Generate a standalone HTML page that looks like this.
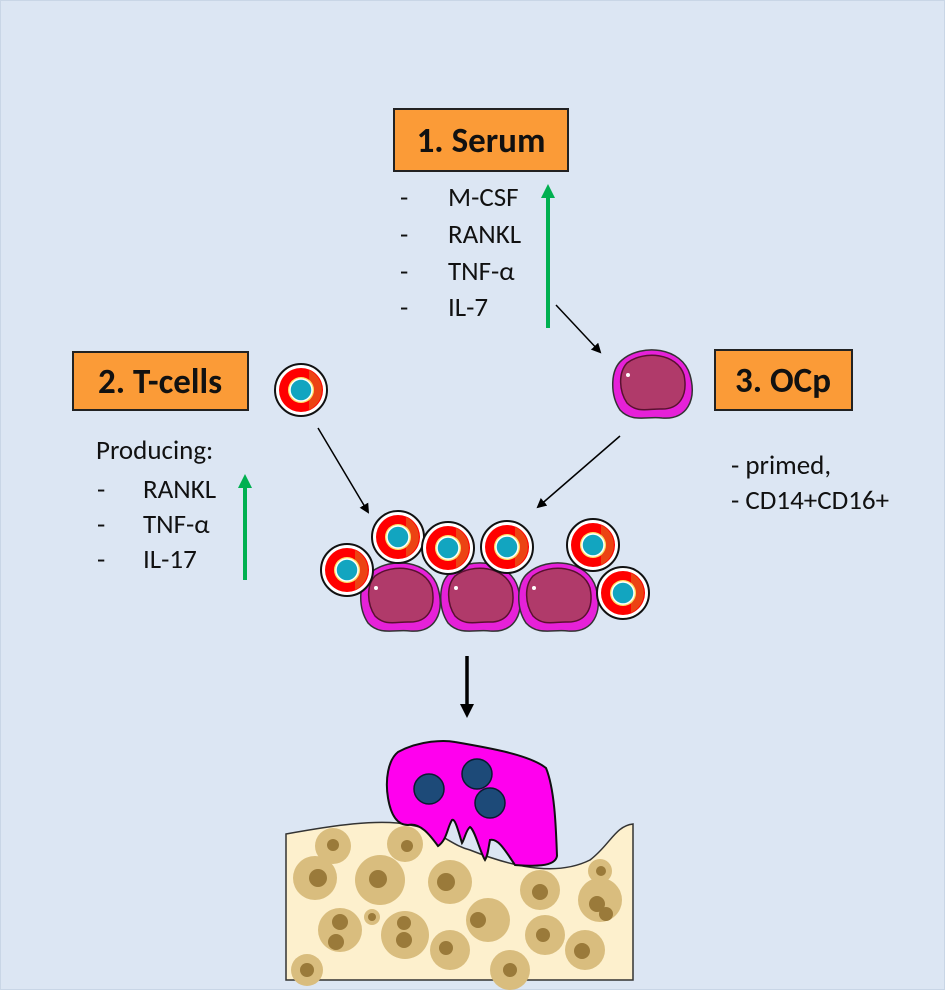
<!DOCTYPE html>
<html><head><meta charset="utf-8"><style>
html,body{margin:0;padding:0;}
body{width:945px;height:990px;background:#dce6f3;position:relative;overflow:hidden;font-family:Carlito,"Liberation Sans",sans-serif;}
svg{position:absolute;left:0;top:0;}
</style></head><body>
<svg width="945" height="990" viewBox="0 0 945 990" xmlns="http://www.w3.org/2000/svg">
<defs>
<marker id="ab" markerWidth="10" markerHeight="10" refX="8" refY="5" orient="auto" markerUnits="userSpaceOnUse"><path d="M0,0 L10,5 L0,10 z" fill="#000"/></marker>
<marker id="ab2" markerWidth="14" markerHeight="14" refX="10" refY="7" orient="auto" markerUnits="userSpaceOnUse"><path d="M0,0 L14,7 L0,14 z" fill="#000"/></marker>
<marker id="ag" markerWidth="14" markerHeight="14" refX="4" refY="7" orient="auto" markerUnits="userSpaceOnUse"><path d="M0,0 L14,7 L0,14 z" fill="#00b050"/></marker>
<g id="tc">
<circle r="26" fill="#fff" stroke="#111" stroke-width="2"/>
<circle r="22" fill="#ff0000"/>
<path d="M8,-20 A22,22 0 0 1 8,20" fill="#e07020" opacity="0.6"/>
<circle r="13" fill="#ffe066"/>
<circle r="11" fill="#12a5c0" stroke="#fff" stroke-width="1.5"/>
</g>
<g id="oc">
<path d="M-30,-25 C-10,-42 30,-38 38,-10 C45,15 35,35 10,33 C-5,31 -20,38 -32,25 C-42,10 -42,-15 -30,-25 z" fill="#e621d8" stroke="#333" stroke-width="1.5"/>
<path d="M-25,-22 C-8,-35 25,-32 32,-10 C36,10 28,25 8,24 C-5,24 -15,28 -25,18 C-33,6 -34,-12 -25,-22 z" fill="#b03a6a" stroke="#5a1030" stroke-width="1.5"/>
<circle cx="-24" cy="-10" r="2" fill="#fff"/>
</g>
</defs>
<rect x="0.5" y="0.5" width="944" height="989" fill="none" stroke="#c9d6e6"/>
<rect x="394" y="109" width="174" height="62" fill="#fb9b37" stroke="#222" stroke-width="2"/>
<text x="481" y="152" font-size="35" font-weight="bold" text-anchor="middle" fill="#111">1. Serum</text>
<rect x="73" y="352" width="175" height="58" fill="#fb9b37" stroke="#222" stroke-width="2"/>
<text x="160" y="393" font-size="35" font-weight="bold" text-anchor="middle" fill="#111">2. T-cells</text>
<rect x="715" y="350" width="137" height="60" fill="#fb9b37" stroke="#222" stroke-width="2"/>
<text x="783" y="392" font-size="35" font-weight="bold" text-anchor="middle" fill="#111">3. OCp</text>
<g font-size="27" fill="#111">
<text x="400" y="206">-</text><text x="448" y="206">M-CSF</text>
<text x="400" y="243">-</text><text x="448" y="243">RANKL</text>
<text x="400" y="280">-</text><text x="448" y="280">TNF-α</text>
<text x="400" y="316">-</text><text x="448" y="316">IL-7</text>
<text x="96" y="459">Producing:</text>
<text x="97" y="498">-</text><text x="143" y="498">RANKL</text>
<text x="97" y="533">-</text><text x="143" y="533">TNF-α</text>
<text x="97" y="568">-</text><text x="143" y="568">IL-17</text>
<text x="731" y="474">- primed,</text>
<text x="731" y="509">- CD14+CD16+</text>
</g>
<line x1="548" y1="328" x2="548" y2="194" stroke="#00b050" stroke-width="4" marker-end="url(#ag)"/>
<line x1="245" y1="580" x2="245" y2="484" stroke="#00b050" stroke-width="4" marker-end="url(#ag)"/>
<line x1="556" y1="305" x2="600" y2="352" stroke="#000" stroke-width="1.5" marker-end="url(#ab)"/>
<line x1="318" y1="428" x2="368" y2="512" stroke="#000" stroke-width="1.5" marker-end="url(#ab)"/>
<line x1="620" y1="436" x2="538" y2="507" stroke="#000" stroke-width="1.5" marker-end="url(#ab)"/>
<line x1="467" y1="656" x2="467" y2="714" stroke="#000" stroke-width="3.5" marker-end="url(#ab2)"/>
<use href="#tc" x="301" y="390"/>
<use href="#oc" x="652" y="385"/>
<use href="#oc" x="400" y="598"/>
<use href="#oc" x="480" y="598"/>
<use href="#oc" x="558" y="598"/>
<use href="#tc" x="347" y="570"/>
<use href="#tc" x="398" y="537"/>
<use href="#tc" x="448" y="548"/>
<use href="#tc" x="507" y="547"/>
<use href="#tc" x="593" y="545"/>
<use href="#tc" x="623" y="593"/>
<path d="M286,834 C330,826 380,818 410,825 C440,830 450,845 470,850 C520,870 560,875 590,860 C610,845 615,826 633,824 L633,980 L286,980 z" fill="#fdf0cd" stroke="#333" stroke-width="1.5"/>
<g fill="#d9bd7e">
<circle cx="333" cy="846" r="18"/><circle cx="405" cy="844" r="18"/>
<circle cx="315" cy="878" r="22"/><circle cx="380" cy="880" r="25"/><circle cx="450" cy="882" r="22"/>
<circle cx="540" cy="890" r="20"/><circle cx="600" cy="900" r="22"/><circle cx="600" cy="871" r="12"/>
<circle cx="340" cy="930" r="22"/><circle cx="405" cy="935" r="24"/><circle cx="450" cy="950" r="20"/>
<circle cx="488" cy="920" r="22"/><circle cx="545" cy="935" r="20"/><circle cx="585" cy="950" r="20"/>
<circle cx="307" cy="970" r="16"/><circle cx="510" cy="970" r="20"/><circle cx="372" cy="917" r="8"/>
</g>
<g fill="#9a7a3a">
<circle cx="333" cy="845" r="6"/><circle cx="407" cy="846" r="6"/><circle cx="318" cy="878" r="9"/>
<circle cx="378" cy="879" r="9"/><circle cx="446" cy="882" r="9"/><circle cx="540" cy="892" r="8"/>
<circle cx="597" cy="904" r="8"/><circle cx="606" cy="914" r="7"/><circle cx="601" cy="871" r="5"/>
<circle cx="340" cy="922" r="8"/><circle cx="336" cy="942" r="8"/><circle cx="404" cy="923" r="7"/>
<circle cx="404" cy="940" r="8"/><circle cx="478" cy="920" r="8"/><circle cx="543" cy="935" r="7"/>
<circle cx="582" cy="951" r="8"/><circle cx="446" cy="948" r="7"/><circle cx="307" cy="970" r="7"/>
<circle cx="510" cy="970" r="7"/><circle cx="372" cy="917" r="4"/>
</g>
<path d="M398,752 C420,740 445,740 455,742 C490,748 530,755 546,768 C555,790 556,830 557,856 C555,868 530,866 515,865 C505,850 498,838 490,840 C488,850 488,855 485,860 C480,852 475,830 470,827 C466,830 465,838 462,843 C458,830 455,818 452,820 C447,828 447,840 438,846 C430,835 420,822 408,825 C395,825 390,810 388,798 C385,780 388,760 398,752 z" fill="#ff00ee" stroke="#111" stroke-width="2"/>
<circle cx="429" cy="789" r="15" fill="#1d4a78" stroke="#0a1a30" stroke-width="1.5"/>
<circle cx="477" cy="774" r="15" fill="#1d4a78" stroke="#0a1a30" stroke-width="1.5"/>
<circle cx="490" cy="803" r="15" fill="#1d4a78" stroke="#0a1a30" stroke-width="1.5"/>
</svg>
</body></html>
